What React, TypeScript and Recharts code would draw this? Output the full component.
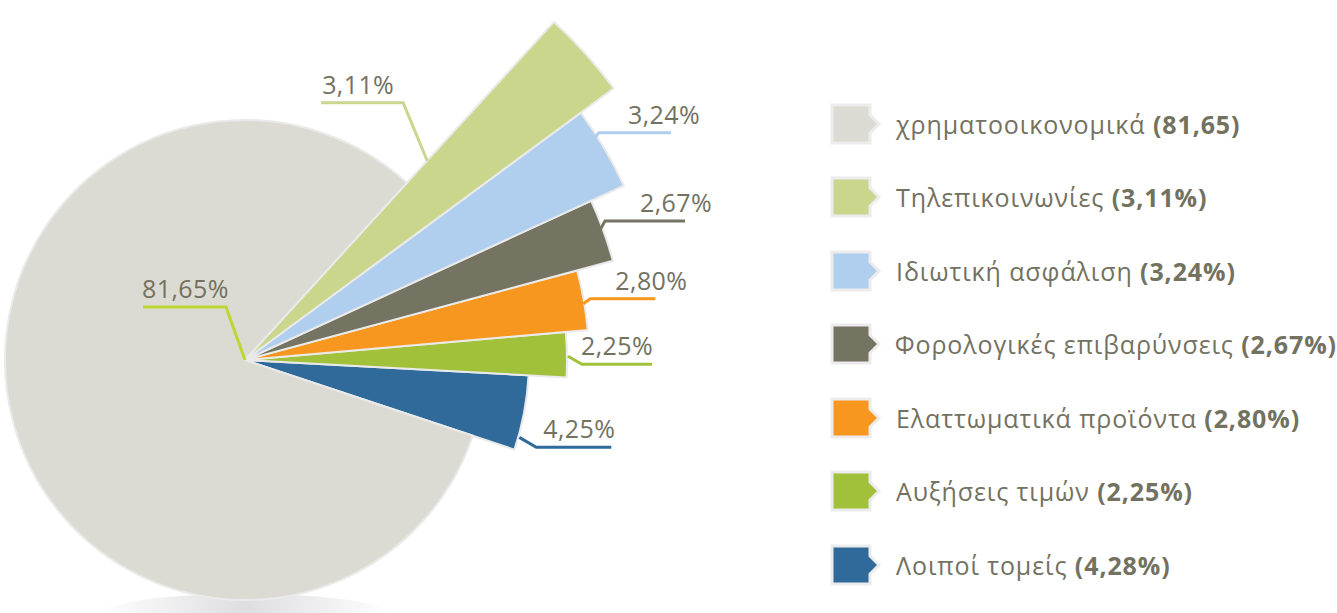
import { Cell, Legend, Pie, PieChart } from "recharts"

const categories = [
  "Λοιποί τομείς",
  "Αυξήσεις τιμών",
  "Ελαττωματικά προϊόντα",
  "Φορολογικές επιβαρύνσεις",
  "Ιδιωτική ασφάλιση",
  "Τηλεπικοινωνίες",
  "χρηματοοικονομικά",
]
const shares = [4.25, 2.25, 2.8, 2.67, 3.24, 3.11, 81.65]
const sliceLabels = ["4,25%", "2,25%", "2,80%", "2,67%", "3,24%", "3,11%", "81,65%"]
const legendValues = ["(4,28%)", "(2,25%)", "(2,80%)", "(2,67%)", "(3,24%)", "(3,11%)", "(81,65)"]

const colors = ["#2f6a9b", "#a1c13a", "#f7971f", "#757362", "#b0cfee", "#cad68c", "#dcdbd3"]
const lineColors = ["#2f6a9b", "#a1c13a", "#f7971f", "#757362", "#b0cfee", "#cad68c", "#bdd631"]
const radii = [284, 322, 344, 381, 417, 458, 240]

// label leader layout per slice: start point offset (radius, angle), elbow offset, horizontal run, text shift
const labelLayout = [
  { dr: 1, da: -5, ex: 17, ey: 10, len: 75, tx: 4 },
  { dr: 1, da: -0.3, ex: 14, ey: 8, len: 70, tx: 1 },
  { dr: -1, da: -0.6, ex: 7, ey: -5, len: 65, tx: 32 },
  { dr: -3, da: 0.2, ex: 5, ey: -9, len: 80, tx: 27 },
  { dr: -42, da: 0.3, ex: 32, ey: -35, len: 72, tx: 29 },
  { dr: -188, da: 5.6, ex: -24, ey: -58, len: -82, tx: 1 },
  { dr: -240, da: 0, ex: -19, ey: -53, len: -83, tx: -1 },
]

const pieData = categories.map((name, i) => ({ name, value: shares[i] }))

const TEXT = "#73715f"
const FONT = "'Open Sans', sans-serif"
const RAD = Math.PI / 180

const makeLabel = (target: number) => (props: any) => {
  if (props.index !== target) return null
  const { cx, cy, midAngle, outerRadius } = props
  const l = labelLayout[target]
  const r = outerRadius + l.dr
  const a = (midAngle + l.da) * RAD
  const sx = cx + r * Math.cos(a)
  const sy = cy - r * Math.sin(a)
  const ex = sx + l.ex
  const ey = sy + l.ey
  const endX = ex + l.len
  return (
    <g>
      <polyline
        points={`${sx},${sy} ${ex},${ey} ${endX},${ey}`}
        fill="none"
        stroke={lineColors[target]}
        strokeWidth={3}
      />
      <text
        x={endX + l.tx}
        y={ey - 9}
        textAnchor={l.len > 0 ? "end" : "start"}
        fill={TEXT}
        fontSize={25}
        fontFamily={FONT}
        letterSpacing={0.4}
      >
        {sliceLabels[target]}
      </text>
    </g>
  )
}

const LegendContent = () => (
  <div style={{ display: "flex", flexDirection: "column", fontFamily: FONT }}>
    {categories.map((_, k) => {
      const i = categories.length - 1 - k
      return (
        <div key={i} style={{ height: 73.5, display: "flex", alignItems: "center" }}>
          <svg width={52} height={44}>
            <path
              d="M2 3 H40 V13 L49 22 L40 31 V41 H2 Z"
              fill={colors[i]}
              stroke="#ececec"
              strokeWidth={3}
            />
          </svg>
          <span
            style={{
              marginLeft: 14,
              fontSize: 25,
              letterSpacing: 0.9,
              color: TEXT,
              whiteSpace: "nowrap",
            }}
          >
            {categories[i]} <b>{legendValues[i]}</b>
          </span>
        </div>
      )
    })}
  </div>
)

export default function App() {
  return (
    <div style={{ position: "absolute", left: 0, top: 0, width: 1337, height: 613, background: "#fff", overflow: "hidden" }}>
      <div
        style={{
          position: "absolute",
          left: 100,
          top: 594,
          width: 290,
          height: 40,
          borderRadius: "50%",
          background: "linear-gradient(to right, rgba(230,230,233,0), #dedee1 50%, rgba(230,230,233,0))",
        }}
      />
      <PieChart width={1337} height={613} margin={{ top: 0, right: 0, bottom: 0, left: 0 }} style={{ position: "absolute", left: 0, top: 0 }}>
        {shares.map((_, t) => (
          <Pie
            key={t}
            data={pieData}
            dataKey="value"
            nameKey="name"
            cx={245}
            cy={360}
            outerRadius={radii[t]}
            startAngle={-18.4}
            endAngle={341.6}
            isAnimationActive={false}
            label={makeLabel(t)}
            labelLine={false}
          >
            {pieData.map((d, i) => (
              <Cell
                key={d.name}
                fill={i === t ? colors[i] : "none"}
                stroke={i === t ? "#eaeaea" : "none"}
                strokeWidth={2}
              />
            ))}
          </Pie>
        ))}
        <Legend
          content={() => <LegendContent />}
          layout="vertical"
          align="right"
          verticalAlign="top"
          wrapperStyle={{ left: 830, top: 87, width: 507 }}
        />
      </PieChart>
    </div>
  )
}
